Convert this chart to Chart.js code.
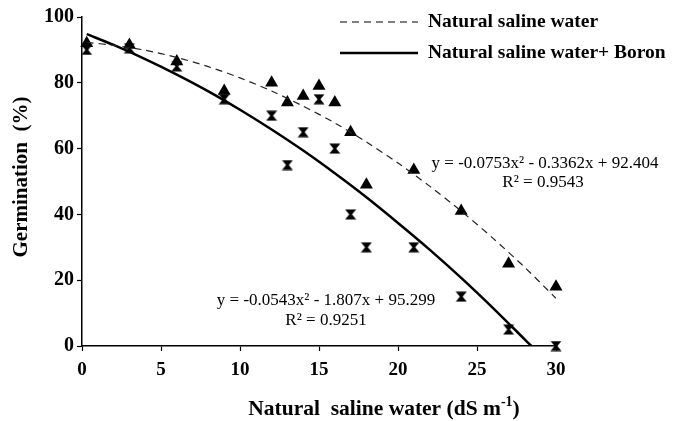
<!DOCTYPE html>
<html>
<head>
<meta charset="utf-8">
<script src="https://cdn.jsdelivr.net/npm/chart.js@4.4.0/dist/chart.umd.min.js"></script>
<style>
    body { margin: 0; background: #fff; }
</style>
</head>
<body>
<canvas id="chartGerm" width="676" height="421"></canvas>
<script>
// salinity levels (dS m-1)
const salinity = [0.3, 3, 6, 9, 12, 13, 14, 15, 16, 17, 18, 21, 24, 27, 30];
// germination % for each treatment
const germSaline = [92, 91.5, 86.5, 77.5, 80, 74, 76, 79, 74, 65, 49, 53.5, 41, 25, 18];
const germBoron  = [90, 90.5, 85, 75, 70, 55, 65, 75, 60, 40, 30, 30, 15, 5, 0];

// fitted curves
const trendSalineX = [0.3, 2, 4, 6, 8, 10, 12, 14, 16, 18, 20, 22, 24, 26, 28, 30];
const trendSaline  = [92.3, 91.4, 89.9, 87.7, 84.9, 81.5, 77.5, 72.9, 67.8, 62.0, 55.6, 48.6, 41.0, 32.8, 24.0, 14.5];
const trendBoronX  = [0.3, 2, 4, 6, 8, 10, 12, 14, 16, 18, 20, 22, 24, 26, 28, 28.44];
const trendBoron   = [94.8, 91.5, 87.2, 82.5, 77.4, 71.8, 65.8, 59.4, 52.5, 45.2, 37.4, 29.3, 20.7, 11.6, 2.1, 0];

const xTicks = [0, 5, 10, 15, 20, 25, 30];
const yTicks = [0, 20, 40, 60, 80, 100];

const legendLabels = ['Natural saline water', 'Natural saline water+ Boron'];
const eqSaline = ['y = -0.0753x\u00B2 - 0.3362x + 92.404', 'R\u00B2 = 0.9543'];
const eqBoron  = ['y = -0.0543x\u00B2 - 1.807x + 95.299', 'R\u00B2 = 0.9251'];

const SERIF = '"Liberation Serif", "Times New Roman", serif';

const toXY = (xs, ys) => xs.map((x, i) => ({x: x, y: ys[i]}));

// hourglass marker
function bowtie() {
    const c = document.createElement('canvas');
    c.width = 12; c.height = 11;
    const g = c.getContext('2d');
    g.fillStyle = '#000';
    g.beginPath();
    g.moveTo(0.5, 0.5); g.lineTo(11.5, 0.5); g.lineTo(7.4, 5.5);
    g.lineTo(11.5, 10.5); g.lineTo(0.5, 10.5); g.lineTo(4.6, 5.5);
    g.closePath();
    g.fill();
    return c;
}

// legend, equations and axis titles
const textPlugin = {
    id: 'textPlugin',
    afterDraw(chart) {
        const ctx = chart.ctx;
        ctx.save();
        ctx.fillStyle = '#000';
        ctx.strokeStyle = '#000';

        //legend
        ctx.lineWidth = 1.2;
        ctx.setLineDash([7, 5]);
        ctx.beginPath(); ctx.moveTo(340, 22); ctx.lineTo(418, 22); ctx.stroke();
        ctx.setLineDash([]);
        ctx.lineWidth = 2.5;
        ctx.beginPath(); ctx.moveTo(340, 53); ctx.lineTo(418, 53); ctx.stroke();
        ctx.font = 'bold 19.5px ' + SERIF;
        ctx.textAlign = 'left';
        ctx.textBaseline = 'middle';
        ctx.fillText(legendLabels[0], 428, 22);
        ctx.fillText(legendLabels[1], 428, 53);

        //equations
        ctx.font = '17px ' + SERIF;
        ctx.textAlign = 'center';
        ctx.fillText(eqSaline[0], 545, 164);
        ctx.fillText(eqSaline[1], 543, 183);
        ctx.fillText(eqBoron[0], 326, 301);
        ctx.fillText(eqBoron[1], 326, 321);

        //y title
        ctx.font = 'bold 21px ' + SERIF;
        ctx.save();
        ctx.translate(22, 177);
        ctx.rotate(-Math.PI / 2);
        ctx.fillText('Germination  (%)', 0, 0);
        ctx.restore();

        //x title with superscript
        const main = 'Natural  saline water (dS m';
        const big = 'bold 21.5px ' + SERIF;
        const small = 'bold 14px ' + SERIF;
        ctx.font = big;
        const w1 = ctx.measureText(main).width;
        ctx.font = small;
        const w2 = ctx.measureText('-1').width;
        ctx.font = big;
        const w3 = ctx.measureText(')').width;
        let x = 384 - (w1 + w2 + w3) / 2;
        ctx.textAlign = 'left';
        ctx.fillText(main, x, 409);
        x += w1;
        ctx.font = small;
        ctx.fillText('-1', x, 402);
        x += w2;
        ctx.font = big;
        ctx.fillText(')', x, 409);
        ctx.restore();
    }
};

const config = {
    type: 'scatter',
    data: {
        datasets: [
            {
                label: legendLabels[0],
                type: 'line',
                data: toXY(trendSalineX, trendSaline),
                borderColor: '#222',
                borderWidth: 1.2,
                borderDash: [7, 5],
                pointRadius: 0,
                tension: 0.3,
                fill: false
            },
            {
                label: legendLabels[1],
                type: 'line',
                data: toXY(trendBoronX, trendBoron),
                borderColor: '#000',
                borderWidth: 2.5,
                pointRadius: 0,
                tension: 0.3,
                fill: false
            },
            {
                label: 'saline points',
                data: toXY(salinity, germSaline),
                pointStyle: 'triangle',
                pointRadius: 7.5,
                backgroundColor: '#000',
                borderColor: '#000',
                borderWidth: 0,
                clip: false
            },
            {
                label: 'boron points',
                data: toXY(salinity, germBoron),
                pointStyle: bowtie(),
                backgroundColor: '#000',
                borderColor: '#000',
                clip: false
            }
        ]
    },
    options: {
        responsive: false,
        animation: false,
        layout: {
            padding: {left: 0, right: 120, top: 17, bottom: 0}
        },
        scales: {
            x: {
                type: 'linear',
                min: xTicks[0],
                max: xTicks[xTicks.length - 1],
                afterFit: (scale) => { scale.height = 75; },
                afterBuildTicks: (scale) => { scale.ticks = xTicks.map(v => ({value: v})); },
                border: {display: true, color: '#000', width: 1.5},
                grid: {drawOnChartArea: false, drawTicks: true, tickLength: 5, color: '#000', tickWidth: 1.2},
                ticks: {
                    color: '#000',
                    padding: 8,
                    maxRotation: 0,
                    font: {family: SERIF, size: 19, weight: 'bold'}
                }
            },
            y: {
                min: yTicks[0],
                max: yTicks[yTicks.length - 1],
                afterFit: (scale) => { scale.width = 82; },
                afterBuildTicks: (scale) => { scale.ticks = yTicks.map(v => ({value: v})); },
                border: {display: true, color: '#000', width: 1.5},
                grid: {drawOnChartArea: false, drawTicks: true, tickLength: 5, color: '#000', tickWidth: 1.2},
                ticks: {
                    color: '#000',
                    padding: 3,
                    font: {family: SERIF, size: 20, weight: 'bold'}
                }
            }
        },
        plugins: {
            legend: {display: false},
            tooltip: {enabled: false}
        }
    },
    plugins: [textPlugin]
};

const myChart = new Chart(document.getElementById('chartGerm'), config);
</script>
</body>
</html>
